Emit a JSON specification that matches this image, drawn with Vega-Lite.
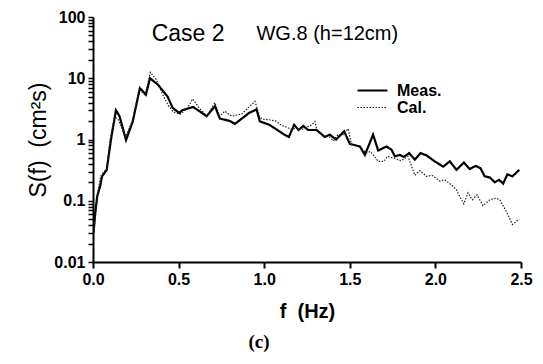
{
  "$schema": "https://vega.github.io/schema/vega-lite/v6.json",
  "width": 428,
  "height": 245,
  "autosize": {"type": "none"},
  "padding": {"left": 93, "top": 17, "right": 22, "bottom": 102},
  "background": "white",
  "config": {"view": {"stroke": null}, "font": "Liberation Sans"},
  "title": {"text": "(c)", "orient": "bottom", "font": "Liberation Serif", "fontSize": 19, "fontWeight": "bold", "offset": 12, "dx": -48, "anchor": "middle", "color": "black"},
  "datasets": {
    "notes": [
      {"f": 0.343, "S": 53, "label": "Case 2", "kind": "big"},
      {"f": 0.955, "S": 53, "label": "WG.8 (h=12cm)", "kind": "small"}
    ]
  },
  "layer": [
    {
      "data": {"values": [
        {"f": 0.003, "S": 0.03, "series": "Meas."},
        {"f": 0.013, "S": 0.063, "series": "Meas."},
        {"f": 0.025, "S": 0.12, "series": "Meas."},
        {"f": 0.041, "S": 0.17, "series": "Meas."},
        {"f": 0.053, "S": 0.25, "series": "Meas."},
        {"f": 0.08, "S": 0.32, "series": "Meas."},
        {"f": 0.105, "S": 1.0, "series": "Meas."},
        {"f": 0.134, "S": 3.0, "series": "Meas."},
        {"f": 0.155, "S": 2.4, "series": "Meas."},
        {"f": 0.193, "S": 0.98, "series": "Meas."},
        {"f": 0.232, "S": 1.96, "series": "Meas."},
        {"f": 0.274, "S": 6.9, "series": "Meas."},
        {"f": 0.309, "S": 5.4, "series": "Meas."},
        {"f": 0.333, "S": 10.0, "series": "Meas."},
        {"f": 0.38, "S": 7.8, "series": "Meas."},
        {"f": 0.436, "S": 5.0, "series": "Meas."},
        {"f": 0.465, "S": 3.3, "series": "Meas."},
        {"f": 0.504, "S": 2.7, "series": "Meas."},
        {"f": 0.52, "S": 3.0, "series": "Meas."},
        {"f": 0.585, "S": 3.4, "series": "Meas."},
        {"f": 0.664, "S": 2.4, "series": "Meas."},
        {"f": 0.712, "S": 3.5, "series": "Meas."},
        {"f": 0.741, "S": 2.2, "series": "Meas."},
        {"f": 0.80, "S": 2.0, "series": "Meas."},
        {"f": 0.829, "S": 1.8, "series": "Meas."},
        {"f": 0.87, "S": 2.2, "series": "Meas."},
        {"f": 0.91, "S": 2.7, "series": "Meas."},
        {"f": 0.955, "S": 3.1, "series": "Meas."},
        {"f": 0.975, "S": 1.97, "series": "Meas."},
        {"f": 1.03, "S": 1.74, "series": "Meas."},
        {"f": 1.09, "S": 1.35, "series": "Meas."},
        {"f": 1.12, "S": 1.19, "series": "Meas."},
        {"f": 1.144, "S": 1.1, "series": "Meas."},
        {"f": 1.175, "S": 1.74, "series": "Meas."},
        {"f": 1.20, "S": 1.43, "series": "Meas."},
        {"f": 1.228, "S": 1.66, "series": "Meas."},
        {"f": 1.257, "S": 1.43, "series": "Meas."},
        {"f": 1.306, "S": 1.43, "series": "Meas."},
        {"f": 1.354, "S": 1.1, "series": "Meas."},
        {"f": 1.383, "S": 1.2, "series": "Meas."},
        {"f": 1.42, "S": 1.0, "series": "Meas."},
        {"f": 1.467, "S": 1.36, "series": "Meas."},
        {"f": 1.50, "S": 0.85, "series": "Meas."},
        {"f": 1.559, "S": 0.77, "series": "Meas."},
        {"f": 1.588, "S": 0.56, "series": "Meas."},
        {"f": 1.636, "S": 1.2, "series": "Meas."},
        {"f": 1.666, "S": 0.66, "series": "Meas."},
        {"f": 1.714, "S": 0.77, "series": "Meas."},
        {"f": 1.744, "S": 0.68, "series": "Meas."},
        {"f": 1.763, "S": 0.53, "series": "Meas."},
        {"f": 1.792, "S": 0.56, "series": "Meas."},
        {"f": 1.816, "S": 0.52, "series": "Meas."},
        {"f": 1.847, "S": 0.6, "series": "Meas."},
        {"f": 1.88, "S": 0.47, "series": "Meas."},
        {"f": 1.913, "S": 0.6, "series": "Meas."},
        {"f": 1.948, "S": 0.55, "series": "Meas."},
        {"f": 1.996, "S": 0.44, "series": "Meas."},
        {"f": 2.045, "S": 0.36, "series": "Meas."},
        {"f": 2.084, "S": 0.44, "series": "Meas."},
        {"f": 2.123, "S": 0.32, "series": "Meas."},
        {"f": 2.166, "S": 0.42, "series": "Meas."},
        {"f": 2.20, "S": 0.33, "series": "Meas."},
        {"f": 2.235, "S": 0.37, "series": "Meas."},
        {"f": 2.263, "S": 0.34, "series": "Meas."},
        {"f": 2.288, "S": 0.25, "series": "Meas."},
        {"f": 2.318, "S": 0.24, "series": "Meas."},
        {"f": 2.347, "S": 0.2, "series": "Meas."},
        {"f": 2.372, "S": 0.22, "series": "Meas."},
        {"f": 2.396, "S": 0.19, "series": "Meas."},
        {"f": 2.42, "S": 0.27, "series": "Meas."},
        {"f": 2.45, "S": 0.25, "series": "Meas."},
        {"f": 2.49, "S": 0.32, "series": "Meas."},
        {"f": 0.005, "S": 0.03, "series": "Cal."},
        {"f": 0.015, "S": 0.06, "series": "Cal."},
        {"f": 0.03, "S": 0.15, "series": "Cal."},
        {"f": 0.045, "S": 0.25, "series": "Cal."},
        {"f": 0.055, "S": 0.28, "series": "Cal."},
        {"f": 0.08, "S": 0.33, "series": "Cal."},
        {"f": 0.1, "S": 1.0, "series": "Cal."},
        {"f": 0.125, "S": 2.3, "series": "Cal."},
        {"f": 0.145, "S": 2.2, "series": "Cal."},
        {"f": 0.19, "S": 1.1, "series": "Cal."},
        {"f": 0.23, "S": 2.0, "series": "Cal."},
        {"f": 0.27, "S": 6.5, "series": "Cal."},
        {"f": 0.305, "S": 5.3, "series": "Cal."},
        {"f": 0.335, "S": 12.5, "series": "Cal."},
        {"f": 0.37, "S": 9.5, "series": "Cal."},
        {"f": 0.41, "S": 5.2, "series": "Cal."},
        {"f": 0.44, "S": 3.6, "series": "Cal."},
        {"f": 0.47, "S": 2.8, "series": "Cal."},
        {"f": 0.51, "S": 2.6, "series": "Cal."},
        {"f": 0.55, "S": 3.2, "series": "Cal."},
        {"f": 0.582, "S": 4.6, "series": "Cal."},
        {"f": 0.62, "S": 3.3, "series": "Cal."},
        {"f": 0.665, "S": 2.4, "series": "Cal."},
        {"f": 0.712, "S": 4.0, "series": "Cal."},
        {"f": 0.74, "S": 2.4, "series": "Cal."},
        {"f": 0.77, "S": 2.9, "series": "Cal."},
        {"f": 0.81, "S": 2.4, "series": "Cal."},
        {"f": 0.868, "S": 2.6, "series": "Cal."},
        {"f": 0.946, "S": 4.2, "series": "Cal."},
        {"f": 0.975, "S": 2.3, "series": "Cal."},
        {"f": 0.994, "S": 2.15, "series": "Cal."},
        {"f": 1.03, "S": 2.1, "series": "Cal."},
        {"f": 1.07, "S": 2.0, "series": "Cal."},
        {"f": 1.1, "S": 1.7, "series": "Cal."},
        {"f": 1.13, "S": 1.6, "series": "Cal."},
        {"f": 1.16, "S": 1.45, "series": "Cal."},
        {"f": 1.19, "S": 1.55, "series": "Cal."},
        {"f": 1.22, "S": 1.45, "series": "Cal."},
        {"f": 1.25, "S": 1.6, "series": "Cal."},
        {"f": 1.28, "S": 1.75, "series": "Cal."},
        {"f": 1.296, "S": 1.97, "series": "Cal."},
        {"f": 1.31, "S": 1.35, "series": "Cal."},
        {"f": 1.35, "S": 1.15, "series": "Cal."},
        {"f": 1.38, "S": 1.1, "series": "Cal."},
        {"f": 1.405, "S": 0.95, "series": "Cal."},
        {"f": 1.43, "S": 1.2, "series": "Cal."},
        {"f": 1.46, "S": 1.2, "series": "Cal."},
        {"f": 1.49, "S": 1.5, "series": "Cal."},
        {"f": 1.51, "S": 0.82, "series": "Cal."},
        {"f": 1.55, "S": 0.78, "series": "Cal."},
        {"f": 1.598, "S": 0.6, "series": "Cal."},
        {"f": 1.62, "S": 0.64, "series": "Cal."},
        {"f": 1.666, "S": 0.44, "series": "Cal."},
        {"f": 1.70, "S": 0.44, "series": "Cal."},
        {"f": 1.72, "S": 0.53, "series": "Cal."},
        {"f": 1.753, "S": 0.5, "series": "Cal."},
        {"f": 1.78, "S": 0.47, "series": "Cal."},
        {"f": 1.80, "S": 0.45, "series": "Cal."},
        {"f": 1.84, "S": 0.53, "series": "Cal."},
        {"f": 1.88, "S": 0.26, "series": "Cal."},
        {"f": 1.91, "S": 0.31, "series": "Cal."},
        {"f": 1.948, "S": 0.25, "series": "Cal."},
        {"f": 1.98, "S": 0.26, "series": "Cal."},
        {"f": 2.026, "S": 0.21, "series": "Cal."},
        {"f": 2.055, "S": 0.22, "series": "Cal."},
        {"f": 2.094, "S": 0.18, "series": "Cal."},
        {"f": 2.123, "S": 0.15, "series": "Cal."},
        {"f": 2.142, "S": 0.117, "series": "Cal."},
        {"f": 2.166, "S": 0.089, "series": "Cal."},
        {"f": 2.19, "S": 0.135, "series": "Cal."},
        {"f": 2.216, "S": 0.104, "series": "Cal."},
        {"f": 2.243, "S": 0.125, "series": "Cal."},
        {"f": 2.278, "S": 0.083, "series": "Cal."},
        {"f": 2.318, "S": 0.104, "series": "Cal."},
        {"f": 2.353, "S": 0.11, "series": "Cal."},
        {"f": 2.376, "S": 0.104, "series": "Cal."},
        {"f": 2.415, "S": 0.066, "series": "Cal."},
        {"f": 2.45, "S": 0.041, "series": "Cal."},
        {"f": 2.49, "S": 0.05, "series": "Cal."}
      ]},
      "mark": {"type": "line", "clip": true},
      "encoding": {
        "x": {"field": "f", "type": "quantitative",
          "scale": {"domain": [0, 2.5], "nice": false, "zero": false},
          "axis": {"title": "f\u00a0\u00a0(Hz)", "values": [0, 0.5, 1, 1.5, 2, 2.5], "format": ".1f",
            "grid": false, "domainColor": "black", "domainWidth": 2, "tickColor": "black", "tickWidth": 2, "tickSize": 6,
            "labelFont": "Liberation Sans", "labelFontSize": 16, "labelFontWeight": "bold", "labelColor": "black", "labelPadding": 3,
            "labelOverlap": false, "labelFlush": false,
            "titleFont": "Liberation Sans", "titleFontSize": 20, "titleFontWeight": "bold", "titleColor": "black", "titlePadding": 14}},
        "y": {"field": "S", "type": "quantitative",
          "scale": {"type": "log", "domain": [0.01, 100], "nice": false},
          "axis": {"title": "S(f)\u00a0\u00a0(cm²s)",
            "values": [0.01,0.02,0.03,0.04,0.05,0.06,0.07,0.08,0.09,0.1,0.2,0.3,0.4,0.5,0.6,0.7,0.8,0.9,1,2,3,4,5,6,7,8,9,10,20,30,40,50,60,70,80,90,100],
            "labelExpr": "indexof([0.01,0.1,1,10,100], datum.value) >= 0 ? format(datum.value, '~g') : ''",
            "tickSize": 5,
            "grid": false, "domainColor": "black", "domainWidth": 2, "tickColor": "black", "tickWidth": 1.5,
            "labelFont": "Liberation Sans", "labelFontSize": 16, "labelFontWeight": "bold", "labelColor": "black", "labelPadding": 3,
            "labelOverlap": false, "labelFlush": false,
            "titleFont": "Liberation Sans", "titleFontSize": 23, "titleFontWeight": "normal", "titleColor": "black", "titlePadding": 3}},
        "color": {"field": "series", "type": "nominal",
          "scale": {"domain": ["Meas.", "Cal."], "range": ["#000000", "#222222"]},
          "legend": {"title": null, "orient": "none", "legendX": 263, "legendY": 65, "symbolType": "stroke", "symbolSize": 900,
            "clipHeight": 17, "labelFont": "Liberation Sans", "labelFontSize": 16, "labelColor": "black", "labelFontWeight": "bold",
            "rowPadding": 0, "labelOffset": 8}},
        "strokeDash": {"field": "series", "type": "nominal",
          "scale": {"domain": ["Meas.", "Cal."], "range": [[1, 0], [1.5, 1.5]]},
          "legend": {"title": null, "orient": "none", "legendX": 263, "legendY": 65, "symbolType": "stroke", "symbolSize": 900,
            "clipHeight": 17, "labelFont": "Liberation Sans", "labelFontSize": 16, "labelColor": "black", "labelFontWeight": "bold",
            "rowPadding": 0, "labelOffset": 8}},
        "strokeWidth": {"field": "series", "type": "nominal",
          "scale": {"domain": ["Meas.", "Cal."], "range": [2.2, 1.2]},
          "legend": {"title": null, "orient": "none", "legendX": 263, "legendY": 65, "symbolType": "stroke", "symbolSize": 900,
            "clipHeight": 17, "labelFont": "Liberation Sans", "labelFontSize": 16, "labelColor": "black", "labelFontWeight": "bold",
            "rowPadding": 0, "labelOffset": 8}}
      }
    },
    {
      "data": {"name": "notes"},
      "mark": {"type": "text", "align": "left", "baseline": "middle", "font": "Liberation Sans", "color": "black"},
      "encoding": {
        "x": {"field": "f", "type": "quantitative"},
        "y": {"field": "S", "type": "quantitative"},
        "text": {"field": "label"},
        "size": {"field": "kind", "type": "nominal", "scale": {"domain": ["big", "small"], "range": [23, 20]}, "legend": null}
      }
    }
  ]
}
